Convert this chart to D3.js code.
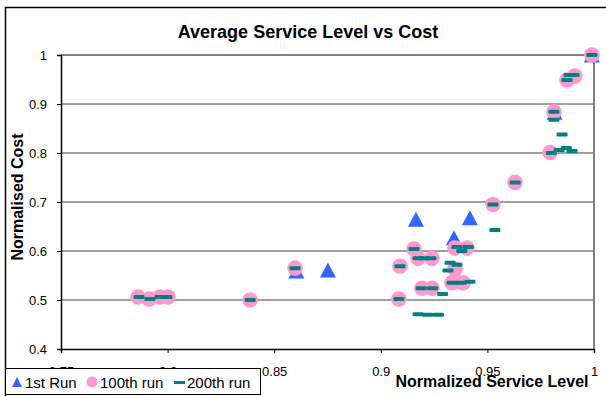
<!DOCTYPE html>
<html>
<head>
<meta charset="utf-8">
<script src="https://cdn.jsdelivr.net/npm/d3@7"></script>
<style>
  body { margin: 0; background: #fff; }
  svg { display: block; font-family: Arial, "Liberation Sans", sans-serif; }
</style>
</head>
<body>
<svg id="chart" width="606" height="396"></svg>
<script>
// Normalised service level (x) and normalised cost (y) per run
const seriesNames = ["1st Run", "100th run", "200th run"];

const run1 = [
  [0.8604, 0.559], [0.8752, 0.561], [0.9165, 0.665], [0.9418, 0.668],
  [0.9343, 0.627], [0.9815, 0.883], [0.9990, 1.000]
];

const run100 = [
  [0.7861, 0.506], [0.7914, 0.502], [0.7964, 0.506], [0.8002, 0.506],
  [0.8387, 0.500], [0.8598, 0.565],
  [0.9085, 0.502], [0.9090, 0.569], [0.9156, 0.604],
  [0.9175, 0.585], [0.9240, 0.585],
  [0.9193, 0.524], [0.9240, 0.524],
  [0.9348, 0.606], [0.9404, 0.606], [0.9348, 0.563],
  [0.9334, 0.535], [0.9386, 0.535],
  [0.9526, 0.695], [0.9630, 0.740], [0.9794, 0.801], [0.9812, 0.884],
  [0.9873, 0.949], [0.9910, 0.957], [0.9990, 1.000]
];

const run200 = [
  [0.7866, 0.506], [0.7917, 0.502], [0.7964, 0.506], [0.7997, 0.506],
  [0.8387, 0.500], [0.8598, 0.565],
  [0.9085, 0.502], [0.9090, 0.569], [0.9156, 0.604],
  [0.9175, 0.585], [0.9203, 0.585], [0.9235, 0.585],
  [0.9190, 0.524], [0.9243, 0.524],
  [0.9357, 0.608], [0.9380, 0.600], [0.9410, 0.608],
  [0.9325, 0.576], [0.9357, 0.572], [0.9315, 0.560],
  [0.9334, 0.535], [0.9377, 0.535], [0.9418, 0.537],
  [0.9290, 0.512],
  [0.9175, 0.471], [0.9220, 0.470], [0.9270, 0.470],
  [0.9535, 0.643], [0.9526, 0.695], [0.9630, 0.740],
  [0.9850, 0.838],
  [0.9800, 0.800], [0.9837, 0.806], [0.9870, 0.810], [0.9897, 0.804],
  [0.9812, 0.884], [0.9812, 0.868],
  [0.9883, 0.959], [0.9906, 0.959], [0.9873, 0.949],
  [0.9990, 1.000]
];

const xTicks = [0.75, 0.8, 0.85, 0.9, 0.95, 1];
const xTickLabels = ["0.75", "0.8", "0.85", "0.9", "0.95", "1"];
const yTicks = [0.4, 0.5, 0.6, 0.7, 0.8, 0.9, 1];
const yTickLabels = ["0.4", "0.5", "0.6", "0.7", "0.8", "0.9", "1"];

const colors = { run1: "#3366FF", run100: "#FF99CC", run200: "#008080" };

const svg = d3.select("#chart");
const plot = { left: 61, right: 594, top: 55, bottom: 349 };

const x = d3.scaleLinear().domain([0.75, 1]).range([plot.left, plot.right]);
const y = d3.scaleLinear().domain([0.4, 1]).range([plot.bottom, plot.top]);

// outer chart frame
svg.append("rect")
  .attr("x", 5.5).attr("y", 7.5).attr("width", 620).attr("height", 420)
  .attr("fill", "none").attr("stroke", "#000").attr("stroke-width", 1.5);

// title
svg.append("text")
  .attr("x", 308).attr("y", 38)
  .attr("text-anchor", "middle")
  .attr("font-size", 18).attr("font-weight", "bold")
  .text("Average Service Level vs Cost");

// horizontal gridlines
svg.append("g")
  .selectAll("line")
  .data(yTicks.filter(d => d > 0.4 && d < 1))
  .join("line")
  .attr("x1", plot.left).attr("x2", plot.right)
  .attr("y1", d => y(d)).attr("y2", d => y(d))
  .attr("stroke", "#404040").attr("stroke-width", 1);

// plot-area border (top and right)
svg.append("path")
  .attr("d", `M${plot.left},${y(1)}H${x(1)}V${y(0.4)}`)
  .attr("fill", "none").attr("stroke", "#808080").attr("stroke-width", 2);

// y axis
const yAxis = svg.append("g")
  .attr("transform", `translate(${plot.left},0)`)
  .call(d3.axisLeft(y).tickValues(yTicks).tickSize(4).tickPadding(10)
    .tickFormat(d => yTickLabels[yTicks.indexOf(d)]));
yAxis.select(".domain").attr("stroke", "#000").attr("stroke-width", 1.5);
yAxis.selectAll("text").attr("font-size", 13).attr("font-family", "Arial, 'Liberation Sans', sans-serif").attr("fill", "#000");

// x axis
const xAxis = svg.append("g")
  .attr("transform", `translate(0,${plot.bottom})`)
  .call(d3.axisBottom(x).tickValues(xTicks).tickSize(4).tickPadding(14)
    .tickFormat(d => xTickLabels[xTicks.indexOf(d)]));
xAxis.select(".domain").attr("stroke", "#000").attr("stroke-width", 1.5);
xAxis.selectAll("text").attr("font-size", 13).attr("font-family", "Arial, 'Liberation Sans', sans-serif").attr("fill", "#000");

// axis titles
svg.append("text")
  .attr("transform", "translate(23,197) rotate(-90)")
  .attr("text-anchor", "middle")
  .attr("font-size", 16).attr("font-weight", "bold")
  .text("Normalised Cost");

svg.append("text")
  .attr("x", 492).attr("y", 387)
  .attr("text-anchor", "middle")
  .attr("font-size", 16).attr("font-weight", "bold")
  .text("Normalized Service Level");

// marker shapes
const triPath = (w, h) => `M0,${-h / 2}L${w / 2},${h / 2}L${-w / 2},${h / 2}Z`;

// 1st run: triangles
svg.append("g")
  .selectAll("path")
  .data(run1)
  .join("path")
  .attr("transform", d => `translate(${x(d[0])},${y(d[1])})`)
  .attr("d", triPath(16, 15))
  .attr("fill", colors.run1);

// 100th run: circles
svg.append("g")
  .selectAll("circle")
  .data(run100)
  .join("circle")
  .attr("cx", d => x(d[0])).attr("cy", d => y(d[1]))
  .attr("r", 7.8)
  .attr("fill", colors.run100);

// 200th run: dashes
svg.append("g")
  .selectAll("rect")
  .data(run200)
  .join("rect")
  .attr("x", d => x(d[0]) - 5.5).attr("y", d => y(d[1]) - 2)
  .attr("width", 11).attr("height", 4)
  .attr("rx", 1)
  .attr("fill", colors.run200);

// legend
const legend = svg.append("g");
legend.append("rect")
  .attr("x", 5.5).attr("y", 368.5).attr("width", 255).attr("height", 26)
  .attr("fill", "#fff").attr("stroke", "#000").attr("stroke-width", 1);

legend.append("path")
  .attr("transform", "translate(17,382)")
  .attr("d", triPath(10, 10))
  .attr("fill", colors.run1);
legend.append("circle")
  .attr("cx", 92).attr("cy", 382).attr("r", 5.5)
  .attr("fill", colors.run100);
legend.append("rect")
  .attr("x", 174).attr("y", 381).attr("width", 11).attr("height", 3)
  .attr("fill", colors.run200);

const legendX = [25, 100, 187];
legend.selectAll("text.lbl")
  .data(seriesNames)
  .join("text")
  .attr("class", "lbl")
  .attr("x", (d, i) => legendX[i]).attr("y", 388)
  .attr("font-size", 15)
  .text(d => d);
</script>
</body>
</html>
